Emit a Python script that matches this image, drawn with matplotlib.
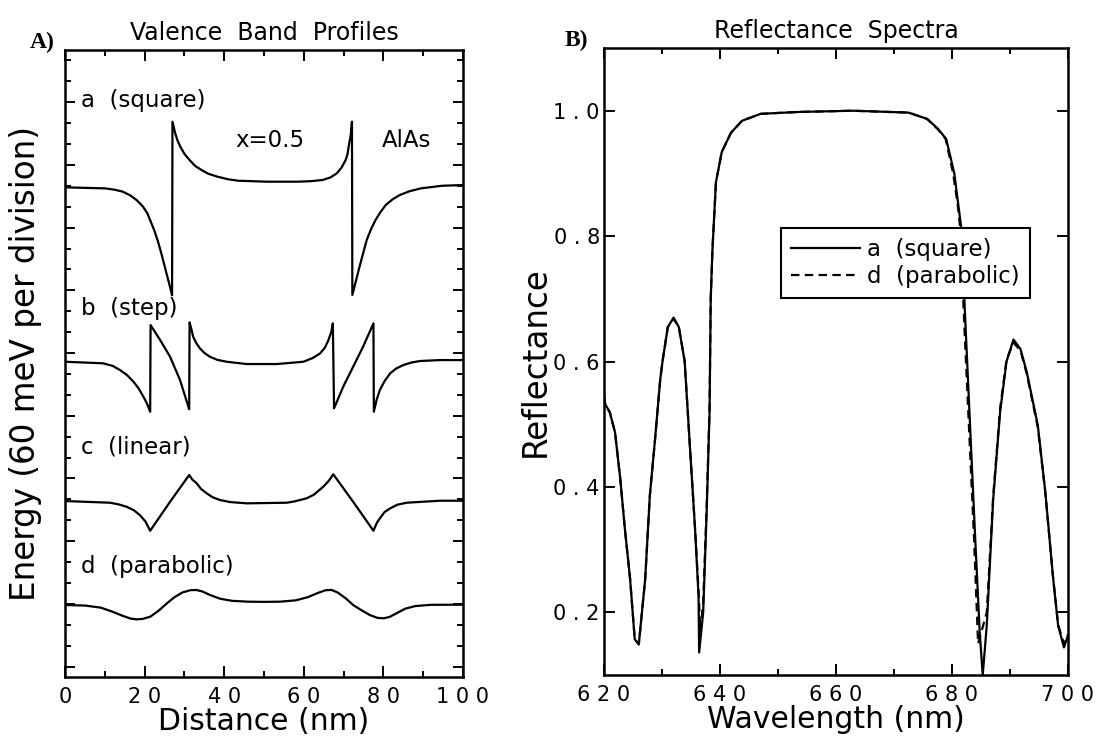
import matplotlib
matplotlib.use("Agg")
import matplotlib.pyplot as plt
from matplotlib.ticker import MultipleLocator, FuncFormatter

# -----------------------------
# Data
# -----------------------------
# Panel A: valence band profiles (distance in nm, energy in meV relative to each curve's baseline)
dist_a = [0, 10.1, 12.5, 14.5, 16.3, 18.0, 19.5, 20.7, 22.4, 23.3, 24.2, 25.5, 26.3, 26.9,
          27.0, 27.7, 28.3, 29.0, 30.0, 31.3, 32.7, 34.3, 36.0, 38.3, 41.0, 43.6, 50.7, 58.6,
          61.8, 64.7, 66.7, 68.3, 69.5, 70.5, 71.0, 71.4, 71.8, 72.1,
          72.2, 73.2, 74.0, 75.8, 76.9, 78.0, 79.3, 80.6, 82.3, 84.1, 86.5, 89.4, 94.7, 100]
band_a = [0, -1.0, -2.3, -4.1, -7.5, -12.2, -18.0, -24.9, -40.9, -51.0, -63.2, -82.3, -94.0, -103.3,
          62.8, 51.6, 44.5, 38.8, 32.0, 26.1, 20.5, 16.6, 13.0, 10.2, 7.7, 6.3, 5.4, 5.4,
          5.9, 7.0, 9.5, 13.4, 19.0, 26.1, 32.0, 42.0, 50.0, 62.8,
          -103.0, -88.0, -76.0, -50.5, -40.0, -31.4, -23.5, -16.9, -11.5, -7.4, -3.8, -1.0, 1.5, 2.2]

dist_b = [0, 9.6, 12.0, 13.8, 15.6, 17.2, 18.5, 19.7, 20.6, 21.4,
          21.5, 23.9, 26.4, 28.9, 31.2,
          31.3, 31.8, 32.2, 33.0, 33.9, 35.0, 36.4, 38.3, 40.6, 45.7, 53.2, 59.9, 62.2, 64.1,
          65.3, 66.2, 66.9, 67.3,
          67.6, 69.9, 72.4, 74.9, 77.5,
          77.6, 78.3, 79.1, 80.3, 81.7, 83.2, 85.0, 87.0, 89.2, 94.2, 100]
band_b = [0, -1.5, -4.0, -7.9, -12.8, -19.1, -25.5, -33.5, -40.0, -47.8,
          35.1, 20.8, 4.8, -17.5, -45.5,
          37.7, 30.5, 23.9, 17.8, 12.8, 8.5, 4.8, 1.8, 0, -2.2, -2.2, 0, 3.5, 8.0,
          13.5, 20.8, 28.5, 36.7,
          -44.6, -23.9, -4.8, 14.4, 36.7,
          -47.8, -36.5, -27.1, -18.5, -11.1, -6.5, -3.2, -0.8, 0.7, 1.6, 1.6]

dist_c = [0, 11.3, 13.5, 15.5, 17.3, 18.8, 20.2, 21.4, 26.4, 31.2, 32.0, 33.1, 34.2, 35.6, 37.0,
          38.9, 41.5, 45.7, 55.7, 57.5, 60.7, 62.5, 64.9, 66.3, 67.4, 72.4, 77.5, 78.4, 79.1,
          80.3, 81.7, 83.5, 85.9, 94.2, 100]
band_c = [0, -1.6, -3.2, -5.5, -8.8, -13.4, -19.5, -28.4, -0.7, 24.9, 20.5, 16.9, 11.5, 7.4, 3.8,
          1.0, -1.0, -2.2, -1.6, -0.5, 2.6, 6.0, 13.7, 19.5, 25.6, -0.7, -28.4, -20.5, -16.6,
          -10.5, -7.0, -3.5, -1.6, 0.3, 0.3]

dist_d = [0, 5.0, 9.0, 12.0, 14.6, 16.5, 18.0, 19.5, 21.4, 23.5, 25.6, 27.5, 29.5, 31.5, 33.0,
          34.5, 36.5, 39.0, 42.0, 46.0, 50.0, 54.0, 58.0, 61.0, 63.5, 65.5, 67.0, 68.5, 70.5,
          72.4, 74.5, 76.6, 78.5, 80.0, 81.5, 83.3, 85.5, 88.0, 92.0, 100]
band_d = [0, -0.5, -2.5, -6.5, -10.5, -13.0, -13.7, -13.3, -11.2, -5.5, 1.6, 7.5, 12.0, 14.2, 14.4,
          13.0, 9.5, 6.0, 4.0, 3.2, 3.0, 3.2, 4.5, 7.5, 11.5, 14.2, 14.4, 12.0, 6.5,
          0, -5.0, -9.6, -12.3, -12.7, -11.5, -7.9, -3.5, -1.0, 0.2, 0.3]

profile_names = ["a  (square)", "b  (step)", "c  (linear)", "d  (parabolic)"]

# Panel B: reflectance spectra
wl_sq = [620.0, 620.2, 621.0, 621.9, 622.8, 623.6, 624.5, 625.3, 626.0, 627.1, 627.9, 628.8, 629.7,
         630.1, 631.0, 632.0, 632.9, 633.9, 634.8, 635.7, 636.3, 636.4, 637.1, 637.7, 638.2, 638.4,
         638.7, 639.3, 640.3, 641.9, 643.8, 647.0, 653.4, 662.9, 672.5, 675.7, 677.6, 679.0, 680.4,
         681.1, 681.7, 682.2, 682.8, 683.4, 684.0, 684.8, 685.3, 686.0, 687.1, 688.3, 689.4, 690.6,
         691.8, 692.9, 694.8, 696.1, 697.4, 698.3, 699.3, 700.0]
refl_sq = [0.545, 0.532, 0.519, 0.487, 0.413, 0.333, 0.253, 0.157, 0.149, 0.253, 0.386, 0.476, 0.572,
           0.601, 0.655, 0.670, 0.655, 0.601, 0.466, 0.333, 0.226, 0.136, 0.200, 0.360, 0.520, 0.700,
           0.779, 0.886, 0.934, 0.965, 0.984, 0.995, 0.998, 1.000, 0.997, 0.987, 0.971, 0.955, 0.900,
           0.849, 0.806, 0.684, 0.562, 0.440, 0.318, 0.165, 0.100, 0.180, 0.380, 0.520, 0.600, 0.635,
           0.620, 0.583, 0.498, 0.391, 0.258, 0.179, 0.144, 0.163]

wl_par = [620.0, 620.2, 621.0, 621.9, 622.8, 623.6, 624.5, 625.3, 626.0, 627.1, 627.9, 628.8, 629.7,
          630.1, 631.0, 632.0, 632.9, 633.9, 634.8, 635.7, 636.3, 636.6, 637.1, 637.7, 638.2, 638.4,
          638.7, 639.3, 640.3, 641.9, 643.8, 647.0, 653.4, 662.9, 672.5, 675.7, 677.5, 678.9, 680.2,
          681.0, 681.5, 682.0, 682.6, 683.2, 683.8, 684.5, 685.1, 686.0, 687.1, 688.3, 689.4, 690.6,
          691.8, 692.9, 694.8, 696.1, 697.4, 698.3, 699.3, 700.0]
refl_par = [0.545, 0.532, 0.519, 0.487, 0.413, 0.333, 0.253, 0.157, 0.149, 0.253, 0.386, 0.476, 0.572,
            0.601, 0.655, 0.668, 0.655, 0.601, 0.466, 0.333, 0.235, 0.170, 0.215, 0.370, 0.525, 0.700,
            0.779, 0.886, 0.934, 0.965, 0.984, 0.995, 0.998, 1.000, 0.997, 0.987, 0.971, 0.955, 0.900,
            0.849, 0.806, 0.684, 0.562, 0.440, 0.318, 0.150, 0.170, 0.200, 0.385, 0.525, 0.603, 0.630,
            0.618, 0.580, 0.495, 0.390, 0.258, 0.180, 0.150, 0.165]

spectra_names = ["a  (square)", "d  (parabolic)"]

# -----------------------------
# Layout / style
# -----------------------------
offsets = [338.6, 171.7, 38.4, -61.1]          # vertical stacking of the four profiles (meV)
label_y = [0.920, 0.587, 0.367, 0.177]         # axes-fraction y of the curve labels
LW = 1.6


def spaced(fmt):
    return FuncFormatter(lambda v, pos: " ".join(fmt.format(v)))


def style(ax):
    for s in ax.spines.values():
        s.set_linewidth(1.8)
    ax.tick_params(which="both", direction="in", top=True, right=True, width=1.4,
                   labelsize=15, pad=7.5, colors="black")
    ax.tick_params(which="major", length=8)
    ax.tick_params(which="minor", length=4.5)


fig = plt.figure(figsize=(11, 7.4), dpi=100)

# ---- Panel A ----
ax1 = fig.add_axes([0.0591, 0.0851, 0.3618, 0.8473])
profiles = [(dist_a, band_a), (dist_b, band_b), (dist_c, band_c), (dist_d, band_d)]
for (xs, ys), off, name, ly in zip(profiles, offsets, profile_names, label_y):
    ax1.plot(xs, [v + off for v in ys], color="black", lw=LW)
    ax1.text(0.040, ly, name, transform=ax1.transAxes, fontsize=16.5, va="center", ha="left")
ax1.text(0.427, 0.855, "x=0.5", transform=ax1.transAxes, fontsize=16.5, va="center", ha="left")
ax1.text(0.796, 0.855, "AlAs", transform=ax1.transAxes, fontsize=16.5, va="center", ha="left")

ax1.set_xlim(0, 100)
ax1.set_ylim(-130, 470)
ax1.xaxis.set_major_locator(MultipleLocator(20))
ax1.xaxis.set_minor_locator(MultipleLocator(10))
ax1.yaxis.set_major_locator(MultipleLocator(60))
ax1.yaxis.set_minor_locator(MultipleLocator(20))
ax1.xaxis.set_major_formatter(spaced("{:.0f}"))
style(ax1)
ax1.tick_params(axis="y", which="major", length=7)
ax1.tick_params(axis="y", which="minor", length=4)
ax1.tick_params(axis="y", labelleft=False)
ax1.set_xlabel("Distance (nm)", fontsize=21.5, labelpad=0)
ax1.set_ylabel("Energy (60 meV per division)", fontsize=23.5, labelpad=9)
ax1.set_title("Valence  Band  Profiles", fontsize=17, pad=7)

# ---- Panel B ----
ax2 = fig.add_axes([0.5491, 0.0878, 0.4218, 0.8473])
ax2.plot(wl_sq, refl_sq, color="black", lw=LW, label=spectra_names[0])
ax2.plot(wl_par, refl_par, color="black", lw=LW, linestyle=(0, (3.8, 2.4)), label=spectra_names[1])
ax2.set_xlim(620, 700)
ax2.set_ylim(0.1, 1.1)
ax2.xaxis.set_major_locator(MultipleLocator(20))
ax2.xaxis.set_minor_locator(MultipleLocator(10))
ax2.yaxis.set_major_locator(MultipleLocator(0.2))
ax2.xaxis.set_major_formatter(spaced("{:.0f}"))
ax2.yaxis.set_major_formatter(spaced("{:.1f}"))
style(ax2)
ax2.tick_params(axis="y", pad=3)
ax2.set_xlabel("Wavelength (nm)", fontsize=21.5, labelpad=0)
ax2.set_ylabel("Reflectance", fontsize=23.5, labelpad=1)
ax2.set_title("Reflectance  Spectra", fontsize=17, pad=7)

leg = ax2.legend(loc="upper left", bbox_to_anchor=(0.381, 0.713), borderaxespad=0,
                 fontsize=16.5, handlelength=3.0, handletextpad=0.3, fancybox=False,
                 edgecolor="black", framealpha=1, borderpad=0.45, labelspacing=0.15)
leg.get_frame().set_linewidth(1.5)

# panel letters
fig.text(0.027, 0.942, "A)", family="Liberation Serif", weight="bold", fontsize=17, va="center")
fig.text(0.513, 0.945, "B)", family="Liberation Serif", weight="bold", fontsize=17, va="center")

plt.savefig("out.png")
plt.close()
